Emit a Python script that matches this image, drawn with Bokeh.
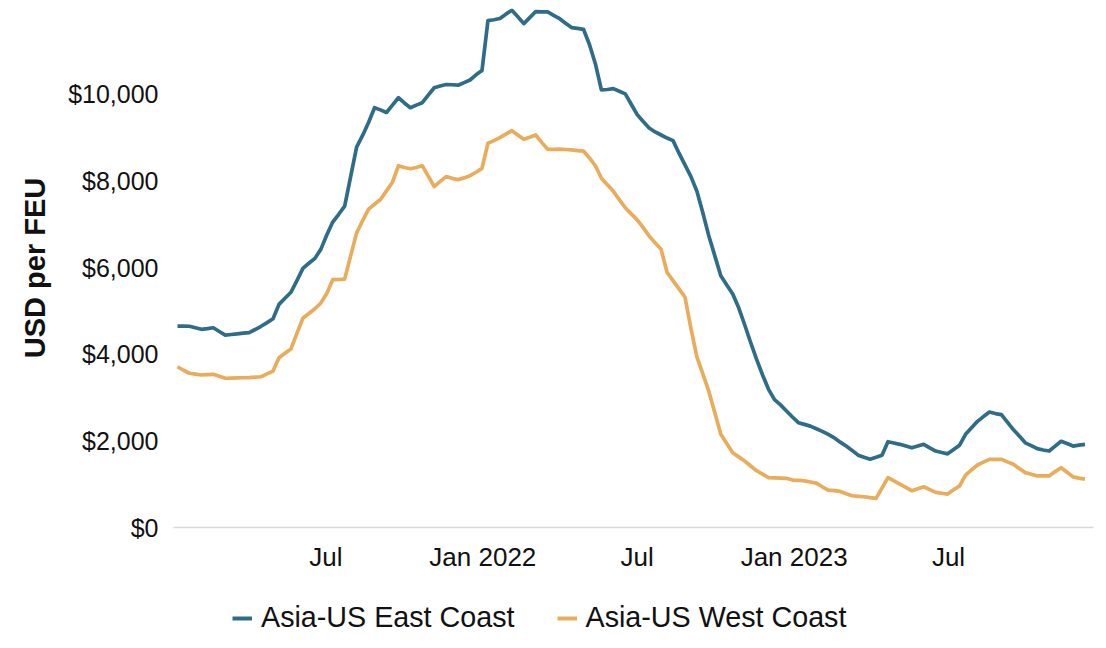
import pandas as pd
from bokeh.plotting import figure
from bokeh.layouts import column
from bokeh.models import (Range1d, FixedTicker, NumeralTickFormatter, Legend,
                          LegendItem, ColumnDataSource)
from bokeh.embed import file_html
from bokeh.resources import INLINE

# ---------------- data (weekly) ----------------
start_date = "2021-01-08"

east_coast = [
    4650, 4650, 4645, 4610, 4575, 4590, 4610, 4525, 4440, 4455,
    4470, 4485, 4500, 4570, 4645, 4730, 4820, 5150, 5290, 5430,
    5700, 5980, 6100, 6210, 6420, 6750, 7050, 7230, 7420, 8100,
    8780, 9050, 9350, 9690, 9640, 9580, 9750, 9920, 9800, 9690,
    9750, 9805, 9980, 10150, 10190, 10225, 10220, 10210, 10270, 10330,
    10450, 10550, 11700, 11720, 11750, 11850, 11940, 11790, 11630, 11770,
    11910, 11900, 11900, 11820, 11745, 11640, 11540, 11520, 11500, 11150,
    10700, 10100, 10110, 10130, 10070, 10010, 9770, 9530, 9370, 9220,
    9130, 9060, 8990, 8930, 8640, 8370, 8100, 7760, 7260, 6730,
    6270, 5810, 5600, 5390, 5070, 4680, 4270, 3880, 3520, 3190,
    2950, 2830, 2690, 2550, 2420, 2380, 2340, 2280, 2220, 2150,
    2070, 1970, 1880, 1780, 1670, 1620, 1575, 1620, 1670, 1980,
    1950, 1920, 1880, 1840, 1880, 1920, 1840, 1765, 1730, 1700,
    1800, 1900, 2150, 2300, 2450, 2560, 2665, 2630, 2605, 2430,
    2260, 2110, 1955, 1890, 1820, 1790, 1765, 1880, 1990, 1940,
    1880, 1900, 1920,
]

west_coast = [
    3710, 3630, 3560, 3540, 3520, 3530, 3535, 3490, 3445, 3450,
    3455, 3457, 3460, 3470, 3480, 3545, 3610, 3920, 4020, 4120,
    4480, 4830, 4940, 5050, 5180, 5400, 5720, 5725, 5735, 6270,
    6800, 7080, 7350, 7460, 7570, 7770, 7970, 8350, 8310, 8280,
    8310, 8350, 8110, 7870, 7990, 8100, 8060, 8030, 8070, 8120,
    8200, 8290, 8870, 8930, 9000, 9080, 9160, 9060, 8960, 9010,
    9060, 8890, 8730, 8730, 8735, 8725, 8715, 8700, 8690, 8530,
    8350, 8060, 7910, 7760, 7570, 7380, 7240, 7100, 6920, 6730,
    6570, 6420, 5890, 5700, 5510, 5320, 4590, 3940, 3540, 3140,
    2650, 2150, 1940, 1725, 1630, 1535, 1420, 1310, 1230, 1150,
    1145, 1140, 1135, 1095, 1090, 1077, 1050, 1024, 940, 864,
    850, 832, 780, 733, 720, 710, 690, 671, 910, 1150,
    1075, 1000, 925, 848, 895, 940, 875, 810, 790, 772,
    870, 960, 1210, 1330, 1443, 1510, 1574, 1574, 1574, 1515,
    1459, 1360, 1267, 1230, 1191, 1191, 1191, 1290, 1380, 1275,
    1168, 1140, 1116,
]

series_names = ["Asia-US East Coast", "Asia-US West Coast"]
series_colors = ["#2E6C88", "#E8AC5B"]

tick_dates = ["2021-07-01", "2022-01-01", "2022-07-01", "2023-01-01", "2023-07-01"]
tick_labels = ["Jul", "Jan 2022", "Jul", "Jan 2023", "Jul"]
y_ticks = [0, 2000, 4000, 6000, 8000, 10000]

# ---------------- build ----------------
def to_ms(ts):
    return int(pd.Timestamp(ts).value // 10**6)

dates = pd.date_range(start_date, periods=len(east_coast), freq="7D")
xs = [to_ms(d) for d in dates]

src = ColumnDataSource(dict(x=xs, east=east_coast, west=west_coast))

x_start = to_ms(dates[0] - pd.Timedelta(hours=113))
x_end = to_ms(dates[-1] + pd.Timedelta(days=10))

FONT = "Liberation Sans"
W = 1098

p = figure(width=W, height=580,
           x_range=Range1d(x_start, x_end), y_range=Range1d(0, 11980),
           output_backend="svg", toolbar_location=None,
           min_border_left=173, min_border_right=5,
           min_border_top=8, min_border_bottom=53)

p.outline_line_color = None
p.background_fill_color = "white"
p.border_fill_color = "white"
p.xgrid.visible = False
p.ygrid.visible = False

line_w = 3.7
p.line("x", "east", source=src, line_color=series_colors[0], line_width=line_w,
       line_join="round")
p.line("x", "west", source=src, line_color=series_colors[1], line_width=line_w,
       line_join="round")

# x axis
tick_ms = [to_ms(t) for t in tick_dates]
xa = p.xaxis[0]
xa.ticker = FixedTicker(ticks=tick_ms, minor_ticks=[])
xa.major_label_overrides = {t: l for t, l in zip(tick_ms, tick_labels)}
xa.axis_line_color = "#d9d9d9"
xa.axis_line_width = 1.5
xa.major_tick_line_color = None
xa.minor_tick_line_color = None
xa.major_label_standoff = 8
xa.major_label_text_font = FONT
xa.major_label_text_font_size = "26px"
xa.major_label_text_color = "#111111"

# y axis
ya = p.yaxis[0]
ya.ticker = FixedTicker(ticks=y_ticks, minor_ticks=[])
ya.formatter = NumeralTickFormatter(format="$0,0")
ya.axis_line_color = None
ya.major_tick_line_color = None
ya.minor_tick_line_color = None
ya.major_label_standoff = 9
ya.major_label_text_font = FONT
ya.major_label_text_font_size = "25px"
ya.major_label_text_color = "#111111"
ya.axis_label = "USD per FEU"
ya.axis_label_text_font = FONT
ya.axis_label_text_font_size = "29px"
ya.axis_label_text_font_style = "bold"
ya.axis_label_text_color = "#111111"
ya.axis_label_standoff = 14

# ---------------- legend strip below the chart ----------------
# (frames of the column are aligned, so this frame spans the same width as the chart's)
pl = figure(width=W, height=60, x_range=Range1d(0, 1), y_range=Range1d(0, 1),
            output_backend="svg", toolbar_location=None,
            x_axis_location=None, y_axis_location=None,
            min_border_left=0, min_border_right=0,
            min_border_top=0, min_border_bottom=0)
pl.outline_line_color = None
pl.xgrid.visible = False
pl.ygrid.visible = False
pl.border_fill_color = "white"

# legend keys: the same series, drawn out of this strip's view (only the key shows)
k_east = pl.line("x", "east", source=src, line_color=series_colors[0], line_width=4)
k_west = pl.line("x", "west", source=src, line_color=series_colors[1], line_width=4)

legend = Legend(items=[LegendItem(label=series_names[0], renderers=[k_east]),
                       LegendItem(label=series_names[1], renderers=[k_west])],
                orientation="horizontal", location=(59, 6),
                padding=0, margin=0, spacing=42,
                glyph_width=20, glyph_height=30, label_height=30,
                label_standoff=9,
                label_text_font=FONT, label_text_font_size="28.7px",
                label_text_color="#111111",
                border_line_color=None, background_fill_alpha=0)
pl.add_layout(legend)

layout = column(p, pl, spacing=0)

open("out.html", "w").write(file_html(layout, INLINE))
